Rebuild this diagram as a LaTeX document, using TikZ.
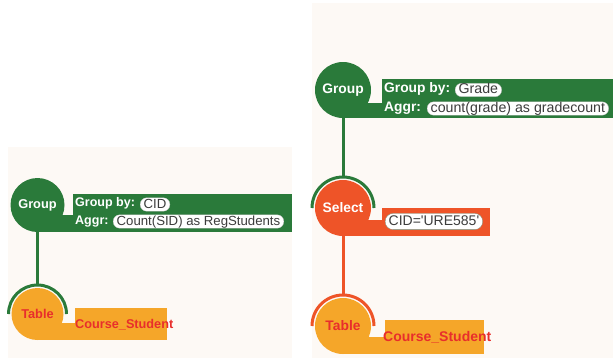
\documentclass[tikz,border=0pt]{standalone}
\usepackage{fontspec}
\setmainfont{Liberation Sans}
\definecolor{ggreen}{RGB}{42,122,58}
\definecolor{selred}{RGB}{238,84,40}
\definecolor{torange}{RGB}{245,166,41}
\definecolor{redtxt}{RGB}{232,46,44}
\definecolor{cream}{RGB}{253,249,245}
\definecolor{pilltxt}{RGB}{60,60,60}
\newcommand\myfs[1]{\fontsize{#1}{#1}\selectfont}
\begin{document}
\begin{tikzpicture}[x=1pt,y=-1pt,
  opnode/.style={circle, inner sep=0pt},
  lbl/.style={anchor=west, inner sep=0pt, text=white},
  pill/.style={anchor=west, fill=white, draw=black!25, line width=0.3pt, text=pilltxt,
     rounded corners=6.5pt, inner xsep=3.5pt, inner ysep=0.6pt, text height=9.6pt, text depth=2.6pt},
  conn/.style={line width=3pt}]
\useasboundingbox (0,0) rectangle (613,360);
\fill[white] (0,0) rectangle (613,360);
\fill[cream] (8,147) rectangle (292,358);
\fill[cream] (312,3) rectangle (613,358);

% ---------- left panel ----------
\fill[ggreen] (37.5,215) rectangle (74,232);
\fill[ggreen] (73,194) rectangle (292,232);
\node[opnode, fill=ggreen, minimum size=54pt, text=white, font=\myfs{12.8}\bfseries] (g1) at (37.5,205) {Group};
\node[lbl, font=\myfs{12.5}\bfseries] (g1gb) at (75,203.5) {Group by:};
\node[lbl, font=\myfs{12.5}\bfseries] (g1ag) at (75,222) {Aggr:};
\node[pill, font=\myfs{13.2}] (g1p1) at (140,204.5) {CID};
\node[pill, font=\myfs{13.2}] (g1p2) at (113,221.5) {Count(SID) as RegStudents};

\fill[torange] (37.5,323) rectangle (76,340);
\fill[torange] (75,308) rectangle (167,340);
\node[opnode, fill=torange, minimum size=52pt, text=redtxt, font=\myfs{12.8}\bfseries] (t1) at (37.5,314) {Table};
\node[lbl, text=redtxt, font=\myfs{12.7}\bfseries] (t1n) at (75,324.5) {Course\_Student};
\draw[ggreen, line width=3pt] ([xshift=-29pt]t1.center) arc[start angle=180, end angle=0, radius=29pt];
\draw[ggreen, conn] (g1.south) -- ([yshift=3pt]t1.north);

% ---------- right panel ----------
\fill[ggreen] (343,103) rectangle (383,118);
\fill[ggreen] (382,79) rectangle (613,118);
\node[opnode, fill=ggreen, minimum size=56pt, text=white, font=\myfs{13.8}\bfseries] (g2) at (343,90) {Group};
\node[lbl, font=\myfs{13.8}\bfseries] (g2gb) at (384,89) {Group by:};
\node[lbl, font=\myfs{13.8}\bfseries] (g2ag) at (384,108) {Aggr:};
\node[pill, font=\myfs{14.2}] (g2p1) at (455,90) {Grade};
\node[pill, font=\myfs{14.2}] (g2p2) at (427,108.5) {count(grade) as gradecount};

\fill[selred] (343,220) rectangle (383,236);
\fill[selred] (382,208) rectangle (490,236);
\node[opnode, fill=selred, minimum size=56pt, text=white, font=\myfs{13.8}\bfseries] (s2) at (343,208) {Select};
\node[pill, font=\myfs{14}, rounded corners=8pt, inner ysep=2pt, draw=ggreen!50!black!60] (s2p) at (385,221.5) {CID=\textquotesingle URE585\textquotesingle};
\draw[ggreen, line width=3pt] ([xshift=-31pt]s2.center) arc[start angle=180, end angle=0, radius=31pt];
\draw[ggreen, conn] (g2.south) -- ([yshift=3pt]s2.north);

\fill[torange] (343,337) rectangle (386,354);
\fill[torange] (385,320) rectangle (484,354);
\node[opnode, fill=torange, minimum size=56pt, text=redtxt, font=\myfs{13.8}\bfseries] (t2) at (343,326) {Table};
\node[lbl, text=redtxt, font=\myfs{14}\bfseries] (t2n) at (383,337.5) {Course\_Student};
\draw[selred, line width=3pt] ([xshift=-31pt]t2.center) arc[start angle=180, end angle=0, radius=31pt];
\draw[selred, conn] (s2.south) -- ([yshift=3pt]t2.north);
\end{tikzpicture}
\end{document}
